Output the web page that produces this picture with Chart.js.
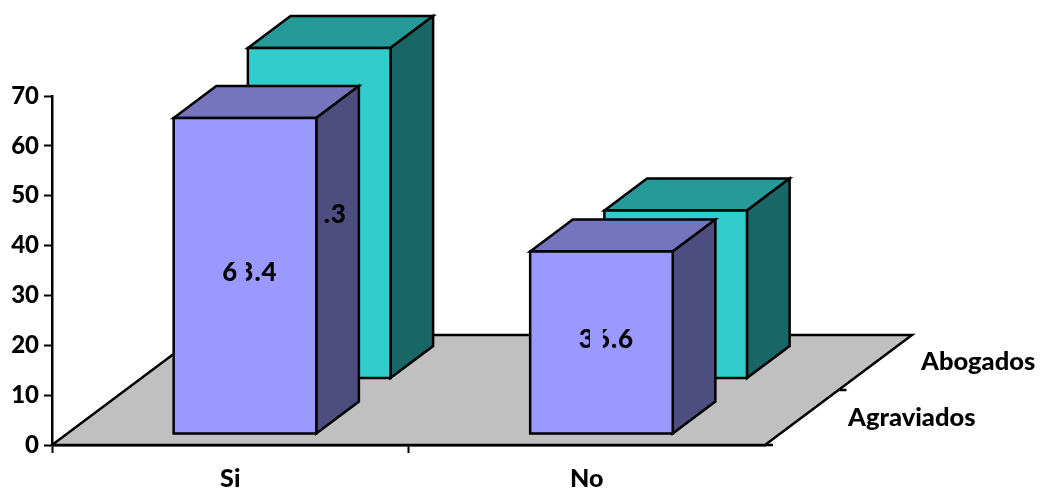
<!DOCTYPE html>
<html>
<head>
<meta charset="utf-8">
<style>html,body{margin:0;padding:0;background:#fff}canvas{display:block}</style>
<script src="https://cdn.jsdelivr.net/npm/chart.js@4/dist/chart.umd.min.js"></script>
</head>
<body>
<canvas id="chart" width="1044" height="497"></canvas>
<script>
const categories = ['Si', 'No'];
const seriesNames = ['Agraviados', 'Abogados'];
const agraviados = [63.4, 36.6];
const abogados = [66.3, 33.7];
const agraviadosLabels = ['63.4', '36.6'];
const abogadosLabels = ['66.3', ''];
const yTicks = [0, 10, 20, 30, 40, 50, 60, 70];

const FONT_FAMILY = 'Lato';
const FONT_WEIGHT = 900;
const BAR_LABEL_FONT = FONT_WEIGHT + ' 26px ' + FONT_FAMILY;
const SERIES_FONT = FONT_WEIGHT + ' 25.5px ' + FONT_FAMILY;
const LINE = 2.5;
const FLOOR = { dx: 147, dy: -110 };
// depth span of each row, as a fraction of the floor depth (front row, back row)
const ROWS = [{ near: 0.1, far: 0.39 }, { near: 0.605, far: 0.895 }];
const PALETTE = [
  { face: '#9999FF', top: '#7575BD', side: '#4D4D7F' },
  { face: '#33CCCC', top: '#269999', side: '#196666' }
];
const LABEL_SHIFT = [{ x: 5, y: -3 }, { x: 0, y: 2 }];
// horizontal bands (relative to the label centre) where the labels break
const FRONT_GAPS = [[-13.5, -4], [-16.5, -3.5]];
const BACK_GAP = [-60, 3.5];

function poly(ctx, pts, fill) {
  ctx.beginPath();
  pts.forEach((p, i) => i ? ctx.lineTo(p[0], p[1]) : ctx.moveTo(p[0], p[1]));
  ctx.closePath();
  ctx.fillStyle = fill;
  ctx.fill();
  ctx.stroke();
}

function prism(bar, row) {
  const r = ROWS[row];
  const l = bar.x - bar.width / 2, rt = bar.x + bar.width / 2;
  const nx = r.near * FLOOR.dx, ny = r.near * FLOOR.dy;
  const fx = r.far * FLOOR.dx, fy = r.far * FLOOR.dy;
  return {
    face: [[l + nx, bar.y + ny], [rt + nx, bar.y + ny], [rt + nx, bar.base + ny], [l + nx, bar.base + ny]],
    top: [[l + nx, bar.y + ny], [l + fx, bar.y + fy], [rt + fx, bar.y + fy], [rt + nx, bar.y + ny]],
    side: [[rt + nx, bar.y + ny], [rt + fx, bar.y + fy], [rt + fx, bar.base + fy], [rt + nx, bar.base + ny]]
  };
}

function barLabel(ctx, text, bar, row, gap) {
  if (!text) return;
  const p = prism(bar, row);
  const cx = (p.face[0][0] + p.face[1][0]) / 2 + LABEL_SHIFT[row].x;
  const cy = (p.face[0][1] + p.face[3][1]) / 2 + LABEL_SHIFT[row].y;
  ctx.save();
  ctx.beginPath();
  ctx.rect(cx - 100, cy - 40, 100 + gap[0], 80);
  ctx.rect(cx + gap[1], cy - 40, 100 - gap[1], 80);
  ctx.clip();
  ctx.font = BAR_LABEL_FONT;
  ctx.letterSpacing = '1px';
  ctx.fillStyle = '#000';
  ctx.textAlign = 'center';
  ctx.textBaseline = 'middle';
  ctx.fillText(text, cx, cy);
  ctx.restore();
}

const floorPrisms = {
  id: 'floorPrisms',
  beforeDatasetsDraw(chart) {
    const { ctx, chartArea: a } = chart;
    ctx.save();
    ctx.lineWidth = LINE;
    ctx.strokeStyle = '#000';
    ctx.lineJoin = 'miter';
    poly(ctx, [
      [a.left, a.bottom], [a.left + FLOOR.dx, a.bottom + FLOOR.dy],
      [a.right + FLOOR.dx, a.bottom + FLOOR.dy], [a.right, a.bottom]
    ], '#C0C0C0');
    // depth axis ticks
    ctx.beginPath();
    ctx.moveTo(a.right, a.bottom); ctx.lineTo(a.right + 8, a.bottom);
    ctx.moveTo(a.right + FLOOR.dx / 2, a.bottom + FLOOR.dy / 2);
    ctx.lineTo(a.right + FLOOR.dx / 2 + 8, a.bottom + FLOOR.dy / 2);
    ctx.stroke();
    ctx.restore();
  },
  afterDatasetsDraw(chart) {
    const { ctx, chartArea: a } = chart;
    const front = chart.getDatasetMeta(0).data;
    const back = chart.getDatasetMeta(1).data;
    ctx.save();
    ctx.lineWidth = LINE;
    ctx.strokeStyle = '#000';
    ctx.lineJoin = 'miter';
    back.forEach(b => {
      const p = prism(b, 1);
      poly(ctx, p.top, PALETTE[1].top);
      poly(ctx, p.side, PALETTE[1].side);
      poly(ctx, p.face, PALETTE[1].face);
    });
    front.forEach(b => {
      const p = prism(b, 0);
      poly(ctx, p.top, PALETTE[0].top);
      poly(ctx, p.side, PALETTE[0].side);
    });
    back.forEach((b, i) => barLabel(ctx, abogadosLabels[i], b, 1, BACK_GAP));
    front.forEach(b => poly(ctx, prism(b, 0).face, PALETTE[0].face));
    front.forEach((b, i) => barLabel(ctx, agraviadosLabels[i], b, 0, FRONT_GAPS[i]));

    // series names beside the depth axis
    ctx.font = SERIES_FONT;
    ctx.fillStyle = '#000';
    ctx.textAlign = 'left';
    ctx.textBaseline = 'middle';
    ctx.fillText(seriesNames[1], a.right + 156, 362);
    ctx.fillText(seriesNames[0], a.right + 83, 418);
    ctx.restore();
  }
};

new Chart(document.getElementById('chart'), {
  type: 'bar',
  data: {
    labels: categories,
    datasets: [
      { label: seriesNames[0], data: agraviados, backgroundColor: 'transparent', borderWidth: 0, grouped: false, barPercentage: 0.4, categoryPercentage: 1 },
      { label: seriesNames[1], data: abogados, backgroundColor: 'transparent', borderWidth: 0, grouped: false, barPercentage: 0.4, categoryPercentage: 1 }
    ]
  },
  options: {
    responsive: false,
    animation: false,
    events: [],
    layout: { padding: { top: 96, right: 279, left: 0, bottom: 0 } },
    plugins: { legend: { display: false }, tooltip: { enabled: false }, title: { display: false } },
    scales: {
      x: {
        type: 'category',
        offset: true,
        afterFit(s) { s.height = 52; },
        border: { display: true, color: '#000', width: LINE },
        grid: {
          offset: true,
          drawOnChartArea: false,
          drawTicks: true,
          tickLength: 8,
          tickWidth: 2,
          // the closing boundary of the axis carries no tick
          tickColor: c => (c.tick ? '#000' : 'transparent')
        },
        ticks: { color: '#000', font: { family: FONT_FAMILY, weight: FONT_WEIGHT, size: 25 }, padding: 11, maxRotation: 0 }
      },
      y: {
        min: 0,
        max: 70,
        afterFit(s) { s.width = 52; },
        afterBuildTicks(s) { s.ticks = yTicks.map(v => ({ value: v })); },
        border: { display: true, color: '#000', width: LINE },
        grid: { drawOnChartArea: false, drawTicks: true, tickLength: 8, tickWidth: 2, tickColor: '#000' },
        ticks: { color: '#000', font: { family: FONT_FAMILY, weight: FONT_WEIGHT, size: 24 }, padding: 5 }
      }
    }
  },
  plugins: [floorPrisms]
});
</script>
</body>
</html>
